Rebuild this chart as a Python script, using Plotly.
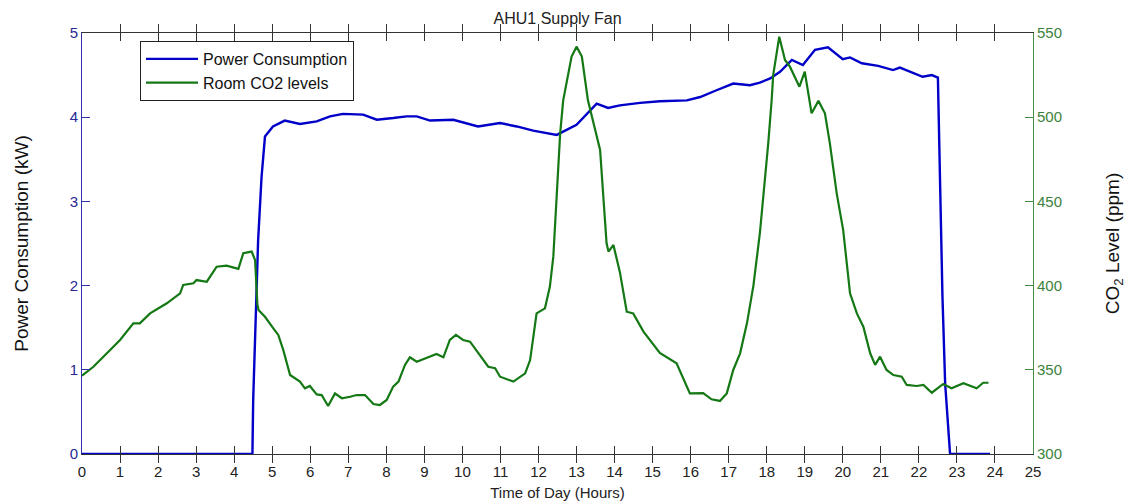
import plotly.graph_objects as go

# AHU1 supply fan power draw over the day (hours, kW)
power_hours = [0, 4.48, 4.5, 4.58, 4.63, 4.72, 4.81, 5.02, 5.33, 5.73, 6.17, 6.52, 6.86,
               7.39, 7.75, 8.18, 8.53, 8.8, 9.15, 9.76, 10.41, 10.99, 11.43, 11.86, 12.48,
               13.0, 13.27, 13.53, 13.83, 14.14, 14.67, 15.19, 15.9, 16.25, 16.68, 17.12,
               17.56, 17.82, 18.09, 18.35, 18.66, 18.95, 19.27, 19.61, 20.0, 20.19, 20.5,
               20.93, 21.32, 21.5, 22.1, 22.34, 22.5, 22.55, 22.6, 22.62, 22.69, 22.82, 23.87]
power_kw = [0, 0, 0.64, 2.0, 2.54, 3.29, 3.77, 3.89, 3.96, 3.92, 3.95, 4.01, 4.04,
            4.03, 3.97, 3.99, 4.01, 4.01, 3.96, 3.97, 3.89, 3.93, 3.89, 3.84, 3.79,
            3.91, 4.04, 4.16, 4.11, 4.14, 4.17, 4.19, 4.2, 4.24, 4.32, 4.40,
            4.38, 4.41, 4.46, 4.54, 4.68, 4.62, 4.80, 4.83, 4.69, 4.71, 4.64,
            4.61, 4.56, 4.59, 4.48, 4.50, 4.47, 3.34, 2.62, 1.87, 0.84, 0, 0]

# Room CO2 concentration over the day (hours, ppm)
co2_hours = [0.0, 0.30, 0.74, 1.0, 1.35, 1.52, 1.79, 2.23, 2.58, 2.66, 2.93, 3.01, 3.28,
             3.54, 3.80, 4.11, 4.24, 4.46, 4.55, 4.57, 4.61, 4.64, 4.81, 5.03, 5.16, 5.29,
             5.47, 5.73, 5.86, 5.99, 6.17, 6.30, 6.47, 6.65, 6.83, 7.05, 7.22, 7.44, 7.66,
             7.83, 8.01, 8.18, 8.32, 8.49, 8.62, 8.80, 9.06, 9.32, 9.50, 9.67, 9.83, 10.02,
             10.20, 10.46, 10.68, 10.86, 10.99, 11.34, 11.65, 11.78, 11.95, 12.17, 12.30,
             12.39, 12.44, 12.57, 12.65, 12.74, 12.87, 13.0, 13.14, 13.30, 13.62, 13.79,
             13.84, 13.97, 14.14, 14.32, 14.49, 14.76, 15.19, 15.63, 15.98, 16.33, 16.55,
             16.77, 16.95, 17.12, 17.30, 17.48, 17.65, 17.82, 17.95, 18.04, 18.13, 18.17,
             18.33, 18.48, 18.61, 18.86, 19.0, 19.18, 19.36, 19.53, 19.66, 19.84, 20.01,
             20.19, 20.37, 20.54, 20.72, 20.85, 20.98, 21.15, 21.33, 21.55, 21.68, 21.94,
             22.12, 22.34, 22.64, 22.86, 23.17, 23.52, 23.69, 23.83]
co2_ppm = [346.5, 351.8, 361.8, 367.7, 377.6, 377.6, 383.5, 389.5, 395.4, 400.4, 401.4, 403.3, 402.3,
           411.2, 411.8, 409.9, 419.2, 420.2, 415.2, 403.0, 389.0, 385.5, 381.5, 374.6, 370.7, 361.8,
           346.9, 343.0, 339.0, 340.4, 335.4, 335.0, 328.5, 336.0, 333.1, 334.0, 335.0, 335.0, 329.7,
           329.1, 332.1, 340.0, 343.0, 352.9, 357.4, 354.8, 357.2, 359.4, 357.4, 367.7, 370.7, 367.7,
           366.7, 358.8, 351.8, 350.9, 345.9, 343.0, 347.9, 355.8, 383.5, 386.5, 399.4,
           417.2, 440.0, 490.4, 510.0, 520.1, 536.0, 541.9, 536.0, 510.0, 480.5, 425.1,
           420.2, 424.1, 408.0, 384.5, 383.5, 372.7, 360.0, 353.9, 336.0, 336.2, 332.5,
           331.5, 336.0, 349.9, 359.8, 377.6, 400.0, 431.1, 460.8, 484.5, 510.2, 525.0,
           547.8, 534.0, 530.0, 518.1, 527.0, 502.3, 509.7, 502.3, 484.5, 454.8, 433.0,
           395.4, 383.5, 375.6, 359.8, 352.9, 357.8, 349.9, 346.9, 345.9, 341.0, 340.4,
           341.0, 336.4, 341.6, 339.0, 342.0, 339.0, 342.3, 342.3]

x_ticks = list(range(0, 26))
kw_ticks = [0, 1, 2, 3, 4, 5]
ppm_ticks = [300, 350, 400, 450, 500, 550]

BLUE = "rgb(0,0,200)"
GREEN = "rgb(20,120,20)"
FONT = "Liberation Sans, Arial, sans-serif"

fig = go.Figure()
fig.add_trace(go.Scatter(x=power_hours, y=power_kw, mode="lines", name="Power Consumption",
                         line=dict(color=BLUE, width=2.4), yaxis="y"))
fig.add_trace(go.Scatter(x=co2_hours, y=co2_ppm, mode="lines", name="Room CO2 levels",
                         line=dict(color=GREEN, width=2.2), yaxis="y2"))

fig.update_layout(
    width=1137, height=501,
    margin=dict(l=82, r=104, t=33, b=47),
    paper_bgcolor="white", plot_bgcolor="white",
    font=dict(family=FONT, size=15, color="#222"),
    title=dict(text="AHU1 Supply Fan", x=0.4904, xanchor="center", y=0.975, yanchor="top",
               font=dict(size=16, color="#222")),
    xaxis=dict(range=[0, 25], tickvals=x_ticks, ticks="inside", ticklen=8, tickcolor="#333",
               showline=True, linecolor="#333", linewidth=1, mirror="allticks",
               showgrid=False, zeroline=False, ticklabelstandoff=4, automargin=False,
               title=dict(text="Time of Day (Hours)", standoff=10, font=dict(size=15))),
    yaxis=dict(range=[0, 5], tickvals=kw_ticks, ticks="inside", ticklen=8, tickcolor="rgb(50,50,170)",
               showline=True, linecolor="rgb(50,50,170)", linewidth=1,
               tickfont=dict(color="rgb(40,40,150)"), automargin=False,
               showgrid=False, zeroline=False,
               title=dict(text="Power Consumption (kW)", standoff=36,
                          font=dict(size=19, color="#111"))),
    yaxis2=dict(range=[300, 550], tickvals=ppm_ticks, ticks="inside", ticklen=8,
                tickcolor="rgb(70,140,70)", overlaying="y", side="right",
                showline=True, linecolor="rgb(70,140,70)", linewidth=1,
                tickfont=dict(color="rgb(60,130,60)"), automargin=False,
                showgrid=False, zeroline=False,
                title=dict(text="CO<sub>2</sub> Level (ppm)", standoff=44,
                           font=dict(size=19, color="#111"))),
    legend=dict(x=0.061, y=0.981, xanchor="left", yanchor="top",
                bgcolor="white", bordercolor="#222", borderwidth=1,
                font=dict(size=16, color="#111"), itemwidth=52,
                tracegroupgap=0),
    showlegend=True,
)

fig.write_html("out.html")
